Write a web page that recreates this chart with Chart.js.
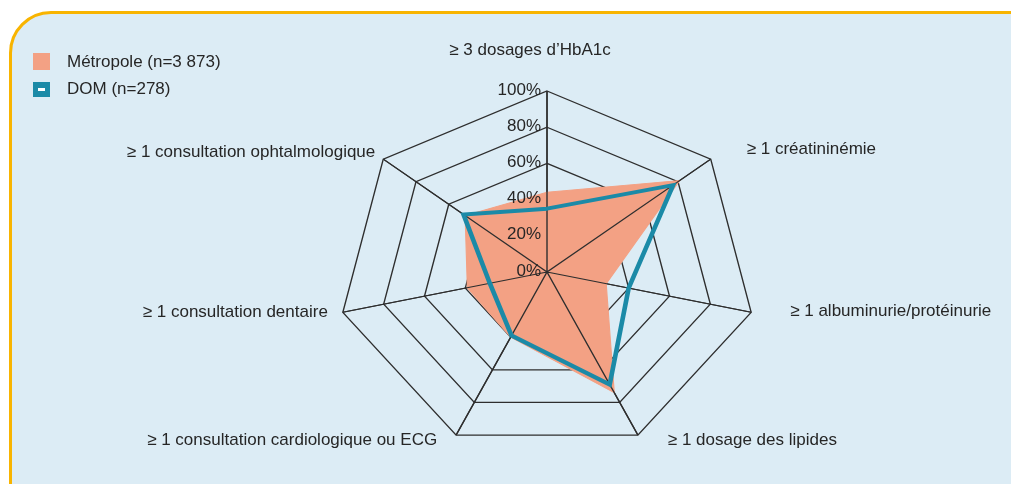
<!DOCTYPE html>
<html>
<head>
    <meta charset="utf-8">
    <script src="https://cdn.jsdelivr.net/npm/chart.js"></script>
    <title>Radar</title>
    <style>
        body { margin: 0; background: #ffffff; overflow: hidden; }
        #frame {
            position: absolute; left: 9px; top: 11px;
            width: 1060px; height: 540px;
            border: 3px solid #f8b400;
            border-top-left-radius: 42px;
            background: #dcecf5;
        }
        #wrap { position: absolute; left: 0; top: 0; width: 1011px; height: 484px; }
    </style>
</head>
<body>
<div id="frame"></div>
<div id="wrap"><canvas id="radar"></canvas></div>
<script>
    // axes, clockwise from the top
    var axes = [
        '\u2265 3 dosages d\u2019HbA1c',
        '\u2265 1 cr\u00e9atinin\u00e9mie',
        '\u2265 1 albuminurie/prot\u00e9inurie',
        '\u2265 1 dosage des lipides',
        '\u2265 1 consultation cardiologique ou ECG',
        '\u2265 1 consultation dentaire',
        '\u2265 1 consultation ophtalmologique'
    ];
    var metropole = [44, 81, 29, 74, 40, 39, 50]; // %
    var dom = [35, 77, 40, 69, 39, 28, 51];       // %
    var seriesNames = ['M\u00e9tropole (n=3 873)', 'DOM (n=278)'];
    var tickSuffix = '%';

    var orange = '#f3a184';
    var blue = '#1b8aa7';
    var gridColor = '#2e2e2e';
    var textColor = '#262626';
    var font = '17px "Liberation Sans", Arial, sans-serif';

    // the original radar is wider than tall
    var stretch = 1.157;
    // label nudges from the outer vertex: dx, dy, align
    var labelNudge = [
        [-17, -41, 'center'],
        [36, -10, 'left'],
        [39, -1, 'left'],
        [30, 5, 'left'],
        [-19, 5, 'right'],
        [-15, 0, 'right'],
        [-8, -7, 'right']
    ];

    var radarPlugin = {
        id: 'radarLook',
        beforeDraw: function (chart) {
            var r = chart.scales.r, ctx = chart.ctx;
            ctx.save();
            ctx.translate(r.xCenter, 0);
            ctx.scale(stretch, 1);
            ctx.translate(-r.xCenter, 0);
        },
        beforeDatasetDraw: function (chart, args) {
            // DOM line goes over the spokes, drawn in afterDraw
            if (args.index === 1) return false;
        },
        afterDraw: function (chart) {
            var ctx = chart.ctx, r = chart.scales.r;

            // spokes stay visible over the filled area (rings do not)
            ctx.save();
            ctx.strokeStyle = gridColor;
            ctx.lineWidth = 1.2;
            ctx.beginPath();
            for (var i = 0; i < axes.length; i++) {
                var p = r.getPointPosition(i, r.drawingArea);
                ctx.moveTo(r.xCenter, r.yCenter);
                ctx.lineTo(p.x, p.y);
            }
            ctx.stroke();
            ctx.restore();

            chart.getDatasetMeta(1).controller.draw();
            ctx.restore();

            ctx.save();
            ctx.font = font;
            ctx.fillStyle = textColor;
            ctx.textBaseline = 'middle';

            // axis names
            axes.forEach(function (txt, i) {
                var p = r.getPointPosition(i, r.drawingArea);
                var x = r.xCenter + stretch * (p.x - r.xCenter) + labelNudge[i][0];
                ctx.textAlign = labelNudge[i][2];
                ctx.fillText(txt, x, p.y + labelNudge[i][1]);
            });

            // percent ticks along the top axis
            ctx.textAlign = 'right';
            r.ticks.forEach(function (t) {
                var y = r.yCenter - r.getDistanceFromCenterForValue(t.value);
                ctx.fillText(t.value + tickSuffix, r.xCenter - 6, y - 1);
            });

            // legend
            ctx.textAlign = 'left';
            ctx.fillStyle = orange;
            ctx.fillRect(33, 53, 17, 17);
            ctx.fillStyle = blue;
            ctx.fillRect(33, 82, 17, 15);
            ctx.fillStyle = '#ffffff';
            ctx.fillRect(38, 88, 7, 3);
            ctx.fillStyle = textColor;
            ctx.fillText(seriesNames[0], 67, 62);
            ctx.fillText(seriesNames[1], 67, 89);
            ctx.restore();
        }
    };

    var ctx = document.getElementById('radar').getContext('2d');
    var chart = new Chart(ctx, {
        type: 'radar',
        data: {
            labels: axes,
            datasets: [{
                label: seriesNames[0],
                data: metropole,
                backgroundColor: orange,
                borderColor: orange,
                borderWidth: 1,
                fill: true,
                pointRadius: 0
            }, {
                label: seriesNames[1],
                data: dom,
                borderColor: blue,
                borderWidth: 4,
                borderJoinStyle: 'miter',
                fill: false,
                pointRadius: 0
            }]
        },
        options: {
            responsive: true,
            maintainAspectRatio: false,
            animation: false,
            layout: { padding: { left: 366, right: 283, top: 91, bottom: 31 } },
            plugins: {
                legend: { display: false },
                tooltip: { enabled: false }
            },
            elements: { line: { tension: 0 } },
            scales: {
                r: {
                    min: 0,
                    max: 100,
                    ticks: { stepSize: 20, display: false },
                    grid: { color: gridColor, lineWidth: 1.2 },
                    angleLines: { color: gridColor, lineWidth: 1.2 },
                    pointLabels: { display: false }
                }
            }
        },
        plugins: [radarPlugin]
    });
</script>
</body>
</html>
